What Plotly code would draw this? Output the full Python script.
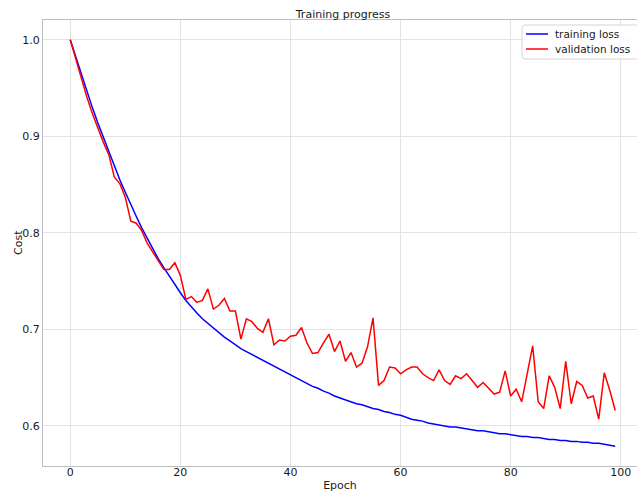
import plotly.graph_objects as go

# Per-epoch cost values
epochs = list(range(100))

training_loss = [
    1.000, 0.982, 0.964, 0.947, 0.930, 0.914, 0.899, 0.884, 0.869, 0.855,
    0.842, 0.829, 0.817, 0.805, 0.794, 0.783, 0.773, 0.764, 0.755, 0.746,
    0.738, 0.730, 0.723, 0.717, 0.711, 0.706, 0.701, 0.696, 0.692, 0.688,
    0.684, 0.680, 0.677, 0.674, 0.671, 0.668, 0.665, 0.662, 0.659, 0.656,
    0.653, 0.650, 0.647, 0.644, 0.641, 0.639, 0.636, 0.634, 0.631, 0.629,
    0.627, 0.625, 0.623, 0.622, 0.620, 0.618, 0.617, 0.615, 0.614, 0.612,
    0.611, 0.609, 0.607, 0.606, 0.605, 0.603, 0.602, 0.601, 0.600, 0.599,
    0.599, 0.598, 0.597, 0.596, 0.595, 0.595, 0.594, 0.593, 0.592, 0.592,
    0.591, 0.590, 0.589, 0.589, 0.588, 0.588, 0.587, 0.586, 0.586, 0.585,
    0.585, 0.584, 0.584, 0.583, 0.583, 0.582, 0.582, 0.581, 0.580, 0.579,
]

validation_loss = [
    1.000, 0.980, 0.960, 0.941, 0.924, 0.908, 0.894, 0.881, 0.858, 0.851,
    0.837, 0.812, 0.810, 0.802, 0.789, 0.780, 0.771, 0.762, 0.762, 0.769,
    0.756, 0.731, 0.734, 0.728, 0.730, 0.742, 0.721, 0.725, 0.732, 0.719,
    0.719, 0.690, 0.711, 0.708, 0.701, 0.697, 0.711, 0.684, 0.689, 0.688,
    0.693, 0.694, 0.702, 0.686, 0.675, 0.676, 0.686, 0.695, 0.677, 0.688,
    0.667, 0.676, 0.661, 0.665, 0.682, 0.712, 0.642, 0.647, 0.661, 0.660,
    0.654, 0.658, 0.661, 0.661, 0.654, 0.650, 0.647, 0.658, 0.647, 0.643,
    0.652, 0.649, 0.654, 0.647, 0.640, 0.645, 0.639, 0.633, 0.635, 0.657,
    0.631, 0.638, 0.625, 0.655, 0.683, 0.625, 0.618, 0.652, 0.640, 0.618,
    0.667, 0.623, 0.646, 0.642, 0.629, 0.631, 0.607, 0.655, 0.637, 0.616,
]

x_ticks = [0, 20, 40, 60, 80, 100]
y_ticks = [0.6, 0.7, 0.8, 0.9, 1.0]
y_tick_labels = ["0.6", "0.7", "0.8", "0.9", "1.0"]

series_names = ["training loss", "validation loss"]
series_colors = ["blue", "red"]

FONT = "DejaVu Sans"
TEXT = "#1a1a1a"
GRID = "#e3e3e3"
FRAME = "#bdbdbd"

W, H = 637, 492
M_L, M_R, M_T, M_B = 43, 0, 20, 26
PW, PH = W - M_L - M_R, H - M_T - M_B


def px_x(p):
    """Pixel column -> paper x."""
    return (p - M_L) / PW


def px_y(p):
    """Pixel row -> paper y."""
    return 1 - (p - M_T) / PH


fig = go.Figure()
for name, vals, col in zip(series_names, [training_loss, validation_loss], series_colors):
    fig.add_trace(go.Scatter(x=epochs, y=vals, mode="lines", name=name,
                             line=dict(color=col, width=1.5),
                             showlegend=False))

# Boxed legend in the upper-right corner, compact row spacing
bx0, bx1, by0, by1, r = px_x(522), px_x(640), px_y(25), px_y(59), 3
rx, ry = r / PW, r / PH
box_path = (
    f"M {bx0 + rx},{by0} L {bx1 - rx},{by0} Q {bx1},{by0} {bx1},{by0 - ry} "
    f"L {bx1},{by1 + ry} Q {bx1},{by1} {bx1 - rx},{by1} "
    f"L {bx0 + rx},{by1} Q {bx0},{by1} {bx0},{by1 + ry} "
    f"L {bx0},{by0 - ry} Q {bx0},{by0} {bx0 + rx},{by0} Z"
)
shapes = [dict(type="path", path=box_path, xref="paper", yref="paper",
               fillcolor="rgba(255,255,255,0.85)",
               line=dict(color="#d5d5d5", width=1), layer="above")]
annotations = []
for i, (name, col) in enumerate(zip(series_names, series_colors)):
    row = px_y(34 + 15 * i)
    shapes.append(dict(type="line", xref="paper", yref="paper",
                       x0=px_x(526), x1=px_x(548), y0=row, y1=row,
                       line=dict(color=col, width=1.5), layer="above"))
    annotations.append(dict(text=name, xref="paper", yref="paper",
                            x=px_x(555), y=row, xanchor="left", yanchor="middle",
                            showarrow=False, xshift=-2,
                            font=dict(family=FONT, size=10.5, color=TEXT)))

# Y-axis title placed beside the tick labels
annotations.append(dict(text="Cost", xref="paper", yref="paper",
                        x=px_x(18), y=0.5, xanchor="center", yanchor="middle",
                        textangle=-90, showarrow=False,
                        font=dict(family=FONT, size=11, color=TEXT)))

fig.update_layout(
    width=W, height=H,
    margin=dict(l=M_L, r=M_R, t=M_T, b=M_B),
    paper_bgcolor="white", plot_bgcolor="white",
    font=dict(family=FONT, size=11, color=TEXT),
    title=dict(text="Training progress", xref="paper", x=0.505, xanchor="center",
               yref="container", y=1 - 14 / H, yanchor="middle",
               font=dict(family=FONT, size=11, color=TEXT)),
    showlegend=False,
    shapes=shapes,
    annotations=annotations,
)

fig.update_xaxes(
    range=[-4.95, 102.95],
    tickvals=x_ticks, ticktext=[str(v) for v in x_ticks],
    showgrid=True, gridcolor=GRID, gridwidth=1,
    zeroline=False, ticks="", ticklen=0, ticklabelstandoff=-4,
    showline=True, linecolor=FRAME, linewidth=1, mirror=True,
    title=dict(text="Epoch", standoff=4, font=dict(family=FONT, size=11)),
)
fig.update_yaxes(
    range=[0.5585, 1.0205],
    tickvals=y_ticks, ticktext=y_tick_labels,
    showgrid=True, gridcolor=GRID, gridwidth=1,
    zeroline=False, ticks="", ticklen=0,
    showline=True, linecolor=FRAME, linewidth=1, mirror=True,
)

fig.write_html("out.html")
